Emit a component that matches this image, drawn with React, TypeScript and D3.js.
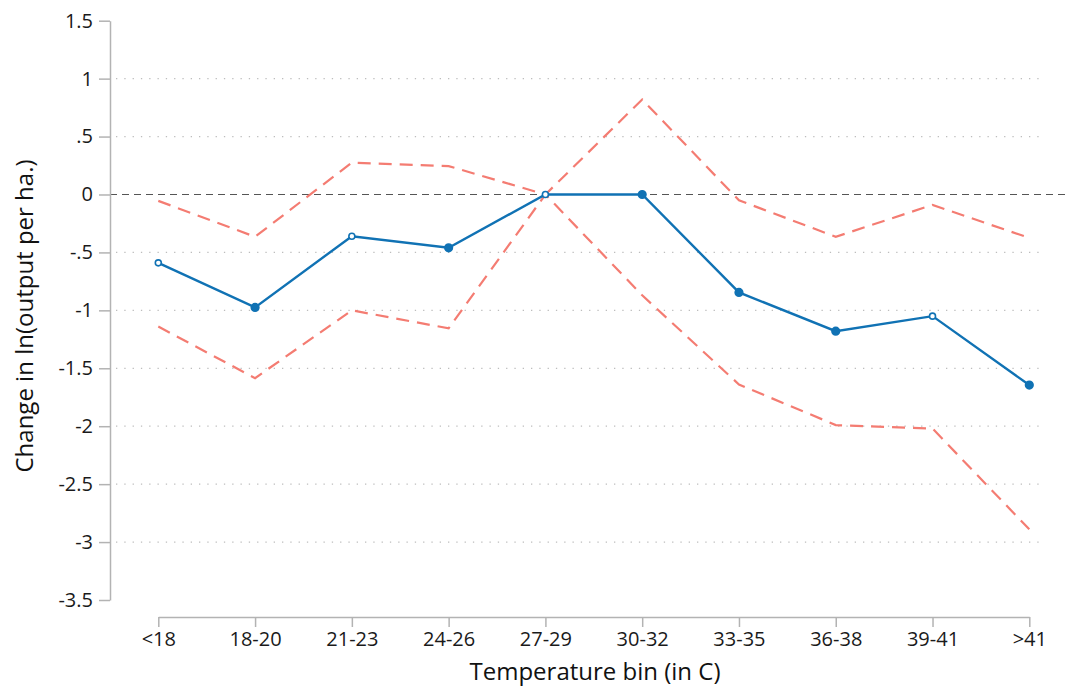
import { useEffect, useRef } from 'react';
import * as d3 from 'd3';

const bins = ['<18', '18-20', '21-23', '24-26', '27-29', '30-32', '33-35', '36-38', '39-41', '>41'];
const estimate = [-0.59, -0.975, -0.36, -0.46, 0, 0, -0.845, -1.18, -1.05, -1.645];
const filled = [false, true, false, true, false, true, true, true, false, true];
const upperCI = [-0.055, -0.365, 0.275, 0.245, 0, 0.82, -0.05, -0.365, -0.09, -0.375];
const lowerCI = [-1.14, -1.585, -1.0, -1.155, 0, -0.87, -1.64, -1.99, -2.02, -2.89];
const yTicks = [1.5, 1, 0.5, 0, -0.5, -1, -1.5, -2, -2.5, -3, -3.5];
const gridTicks = [1, 0.5, -0.5, -1, -1.5, -2, -2.5, -3];

const W = 1068;
const H = 687;
const FONT = '"Open Sans", "Noto Sans", sans-serif';

// Stata-style labels: no leading zero, plain hyphen for minus
function fmt(v: number) {
  return String(v).replace(/^(-?)0\./, '$1.');
}

export default function App() {
  const svgRef = useRef<SVGSVGElement>(null);

  useEffect(() => {
    if (!svgRef.current) return;
    const svg = d3.select(svgRef.current);
    svg.selectAll('*').remove();

    const y = d3.scaleLinear().domain([-3.5, 1.5]).range([600, 20.7]);
    const x = d3.scalePoint<string>().domain(bins).range([158.3, 1029.3]);
    const yAxisX = 110;
    const xAxisY = 617;

    // grid
    svg.append('g')
      .selectAll('line')
      .data(gridTicks)
      .join('line')
      .attr('x1', 116)
      .attr('x2', 1042)
      .attr('y1', d => y(d))
      .attr('y2', d => y(d))
      .attr('stroke', '#bdbdbd')
      .attr('stroke-width', 1.2)
      .attr('stroke-dasharray', '1.3 7');

    // zero reference
    svg.append('line')
      .attr('x1', yAxisX)
      .attr('x2', W)
      .attr('y1', y(0))
      .attr('y2', y(0))
      .attr('stroke', '#555')
      .attr('stroke-width', 1.2)
      .attr('stroke-dasharray', '7 5');

    // axes
    const gy = svg.append('g')
      .attr('transform', `translate(${yAxisX},0)`)
      .call(d3.axisLeft(y).tickValues(yTicks).tickFormat(d => fmt(+d)).tickSize(11).tickSizeOuter(0).tickPadding(6));
    const gx = svg.append('g')
      .attr('transform', `translate(0,${xAxisY})`)
      .call(d3.axisBottom(x).tickSize(10).tickSizeOuter(0).tickPadding(5));
    [gy, gx].forEach(g => {
      g.selectAll('path, line').attr('stroke', '#b3b3b3').attr('stroke-width', 1.5);
      g.selectAll('text').attr('fill', '#1a1a1a').style('font-family', FONT).style('font-size', '20px');
    });

    const line = d3.line<number>()
      .x((_, i) => x(bins[i]) as number)
      .y(d => y(d));

    [upperCI, lowerCI].forEach(s => {
      svg.append('path')
        .datum(s)
        .attr('fill', 'none')
        .attr('stroke', '#f47c72')
        .attr('stroke-width', 2.2)
        .attr('stroke-dasharray', '13 8')
        .attr('d', line);
    });

    svg.append('path')
      .datum(estimate)
      .attr('fill', 'none')
      .attr('stroke', '#1072b4')
      .attr('stroke-width', 2.4)
      .attr('d', line);

    svg.append('g')
      .selectAll('circle')
      .data(estimate)
      .join('circle')
      .attr('cx', (_, i) => x(bins[i]) as number)
      .attr('cy', d => y(d))
      .attr('r', (_, i) => (filled[i] ? 3.8 : 3))
      .attr('fill', (_, i) => (filled[i] ? '#1072b4' : '#fff'))
      .attr('stroke', '#1072b4')
      .attr('stroke-width', 1.6);

    // titles
    svg.append('text')
      .attr('x', 595)
      .attr('y', 680)
      .attr('text-anchor', 'middle')
      .attr('fill', '#111')
      .style('font-family', FONT)
      .style('font-size', '24px')
      .text('Temperature bin (in C)');

    svg.append('text')
      .attr('transform', 'translate(33,316) rotate(-90)')
      .attr('text-anchor', 'middle')
      .attr('fill', '#111')
      .style('font-family', FONT)
      .style('font-size', '24px')
      .text('Change in ln(output per ha.)');
  }, []);

  return (
    <svg
      ref={svgRef}
      width={W}
      height={H}
      style={{ position: 'absolute', left: 0, top: 0, background: '#fff' }}
    />
  );
}
